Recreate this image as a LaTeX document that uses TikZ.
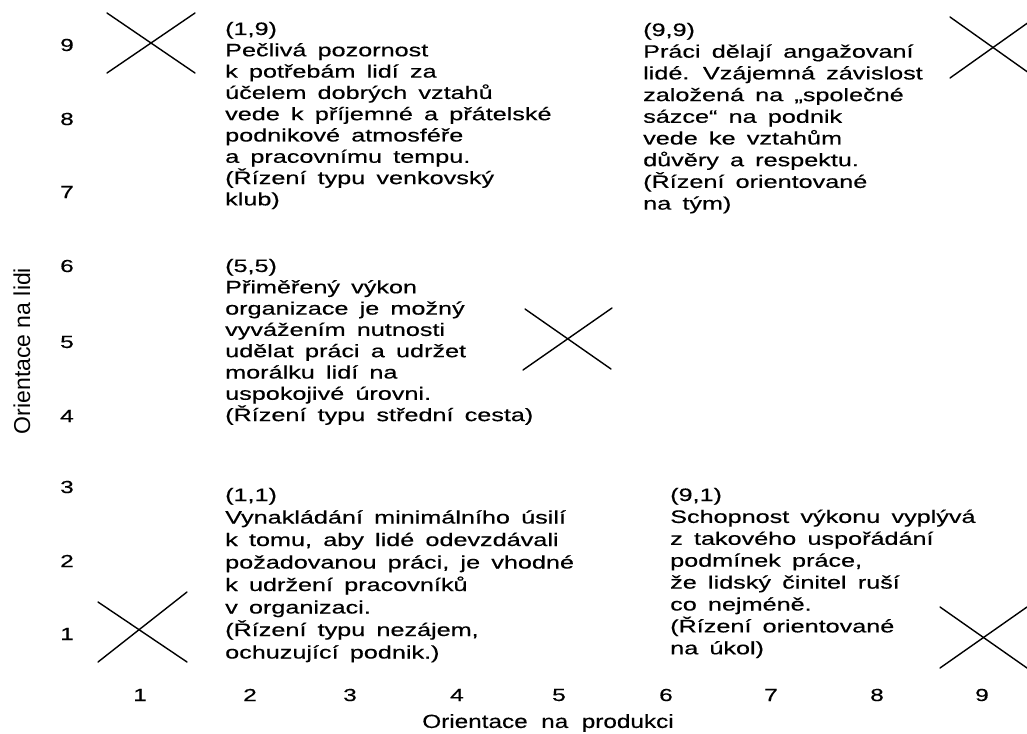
\documentclass[tikz,border=0pt]{standalone}
\usepackage{fontspec}
\setmainfont{Liberation Sans}
\newfontfamily\bodyfont{Liberation Sans}[FakeStretch=1.4,WordSpace=1.6,FakeBold=0.4]
\newfontfamily\titlefont{Liberation Sans}[FakeStretch=1.28,WordSpace=2.0,FakeBold=0.3]
\newfontfamily\ytitlefont{Liberation Sans}
\newcommand\blocktext[2]{\vtop{\bodyfont\fontsize{18}{#1}\selectfont\lineskiplimit=-50pt\lineskip=0pt\halign{##\hfil\cr#2\crcr}}}
\begin{document}
\begin{tikzpicture}[x=1pt,y=-1pt,
  cross/.style={line width=1.4pt,line cap=round},
  num/.style={font=\bodyfont\fontsize{17.5}{20}\selectfont,inner sep=0pt},
  blk/.style={anchor=base west,inner sep=0pt},
  axtitle/.style={inner sep=0pt}]
\useasboundingbox (0,0) rectangle (1027,733);
\clip (0,0) rectangle (1027,733);
\fill[white] (0,0) rectangle (1027,733);

% y-axis numbers
\foreach \k/\yy in {9/45,8/119,7/192,6/266,5/342,4/416,3/487,2/561,1/634}
  \node[num] (y\k) at (67,\yy) {\k};
% x-axis numbers
\foreach \k/\xx in {1/140,2/250,3/350,4/457,5/559,6/666,7/771,8/877,9/982}
  \node[num] (x\k) at (\xx,695) {\k};

% axis titles
\node[axtitle,font=\titlefont\fontsize{19}{22}\selectfont] (xtitle) at (548,723) {Orientace na produkci};
\node[axtitle,rotate=90,font=\ytitlefont\fontsize{23}{26}\selectfont] (ytitle) at (22,351) {Orientace na lidi};

% crosses
\coordinate (a1) at (107,13); \coordinate (a2) at (195,73);
\coordinate (a3) at (107,73); \coordinate (a4) at (195,13);
\draw[cross] (a1) -- (a2); \draw[cross] (a3) -- (a4);
\coordinate (b1) at (950,17); \coordinate (b2) at (1036,78);
\coordinate (b3) at (950,78); \coordinate (b4) at (1036,17);
\draw[cross] (b1) -- (b2); \draw[cross] (b3) -- (b4);
\coordinate (c1) at (525,309); \coordinate (c2) at (611,369);
\coordinate (c3) at (523,370); \coordinate (c4) at (612,308);
\draw[cross] (c1) -- (c2); \draw[cross] (c3) -- (c4);
\coordinate (d1) at (98,602); \coordinate (d2) at (187,662);
\coordinate (d3) at (98,662); \coordinate (d4) at (187,592);
\draw[cross] (d1) -- (d2); \draw[cross] (d3) -- (d4);
\coordinate (e1) at (940,607); \coordinate (e2) at (1027,668);
\coordinate (e3) at (940,668); \coordinate (e4) at (1027,607);
\draw[cross] (e1) -- (e2); \draw[cross] (e3) -- (e4);

% text blocks
\node[blk] (t19) at (225,35) {\blocktext{21.3pt}{(1,9)\cr
Pečlivá pozornost\cr
k potřebám lidí za\cr
účelem dobrých vztahů\cr
vede k příjemné a přátelské\cr
podnikové atmosféře\cr
a pracovnímu tempu.\cr
(Řízení typu venkovský\cr
klub)}};

\node[blk] (t99) at (643,36) {\blocktext{21.7pt}{(9,9)\cr
Práci dělají angažovaní\cr
lidé. Vzájemná závislost\cr
založená na „společné\cr
sázce“ na podnik\cr
vede ke vztahům\cr
důvěry a respektu.\cr
(Řízení orientované\cr
na tým)}};

\node[blk] (t55) at (225,272) {\blocktext{21.3pt}{(5,5)\cr
Přiměřený výkon\cr
organizace je možný\cr
vyvážením nutnosti\cr
udělat práci a udržet\cr
morálku lidí na\cr
uspokojivé úrovni.\cr
(Řízení typu střední cesta)}};

\node[blk] (t11) at (225,501) {\blocktext{22.5pt}{(1,1)\cr
Vynakládání minimálního úsilí\cr
k tomu, aby lidé odevzdávali\cr
požadovanou práci, je vhodné\cr
k udržení pracovníků\cr
v organizaci.\cr
(Řízení typu nezájem,\cr
ochuzující podnik.)}};

\node[blk] (t91) at (670,501) {\blocktext{21.9pt}{(9,1)\cr
Schopnost výkonu vyplývá\cr
z takového uspořádání\cr
podmínek práce,\cr
že lidský činitel ruší\cr
co nejméně.\cr
(Řízení orientované\cr
na úkol)}};
\end{tikzpicture}
\end{document}
